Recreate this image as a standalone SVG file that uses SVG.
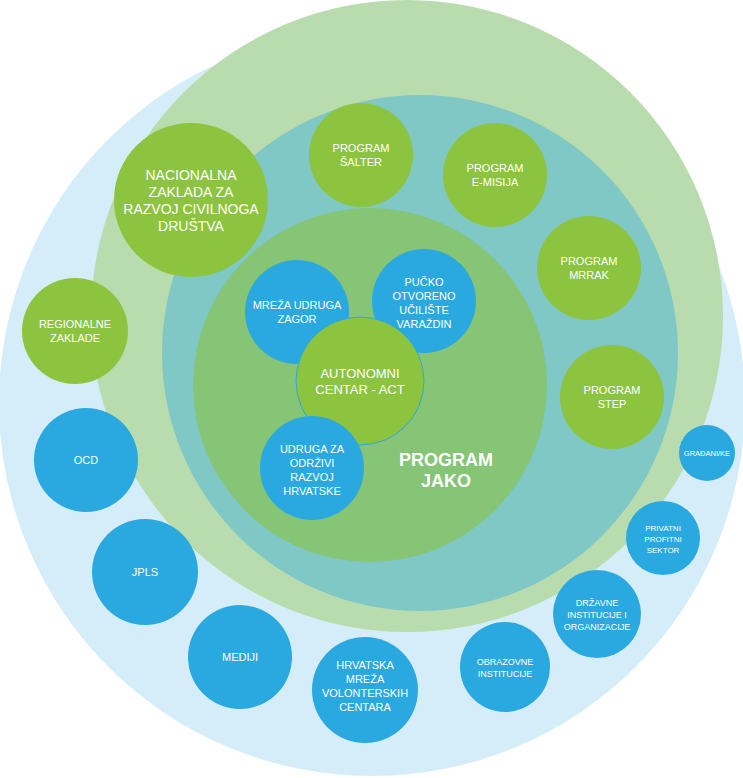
<svg xmlns="http://www.w3.org/2000/svg" width="743" height="778" viewBox="0 0 743 778">
<style>
text{font-family:"Liberation Sans",Arial,sans-serif;fill:#fff;text-anchor:middle}
.g{fill:#8cc43f}.b{fill:#29a9e0}
.s{font-size:11px}.m{font-size:13px}.l{font-size:14px}.xs{font-size:9px}
</style>
<rect width="743" height="778" fill="#fff"/>
<circle cx="372" cy="403" r="373" fill="#d5edf8"/>
<circle cx="407" cy="316" r="316" fill="#b8dcae"/>
<circle cx="420" cy="353" r="258" fill="#7fc8c6"/>
<circle cx="370" cy="385" r="177" fill="#85c575"/>
<text x="446" y="466" style="font-size:18px;font-weight:bold">PROGRAM</text>
<text x="446" y="487" style="font-size:18px;font-weight:bold">JAKO</text>
<g id="connectors"/>
<g id="nacionalna"><circle class="g" cx="191" cy="200" r="77"/><text class="l" x="191" y="180">NACIONALNA</text><text class="l" x="191" y="197">ZAKLADA ZA</text><text class="l" x="191" y="214">RAZVOJ CIVILNOGA</text><text class="l" x="191" y="231">DRUŠTVA</text></g>
<g id="salter"><circle class="g" cx="361" cy="155" r="52"/><text class="s" x="361" y="152">PROGRAM</text><text class="s" x="361" y="166">ŠALTER</text></g>
<g id="emisija"><circle class="g" cx="495" cy="175" r="52"/><text class="s" x="495" y="172">PROGRAM</text><text class="s" x="495" y="186">E-MISIJA</text></g>
<g id="mrrak"><circle class="g" cx="589" cy="268" r="52"/><text class="s" x="589" y="265">PROGRAM</text><text class="s" x="589" y="279">MRRAK</text></g>
<g id="step"><circle class="g" cx="612" cy="397" r="52"/><text class="s" x="612" y="394">PROGRAM</text><text class="s" x="612" y="408">STEP</text></g>
<g id="regionalne"><circle class="g" cx="75" cy="331" r="53"/><text class="s" x="75" y="328">REGIONALNE</text><text class="s" x="75" y="342">ZAKLADE</text></g>
<g id="zagor"><circle class="b" cx="297" cy="312" r="52"/><text class="s" x="297" y="309">MREŽA UDRUGA</text><text class="s" x="297" y="323">ZAGOR</text></g>
<g id="pucko"><circle class="b" cx="424" cy="301" r="52"/><text class="s" x="424" y="286">PUČKO</text><text class="s" x="424" y="300">OTVORENO</text><text class="s" x="424" y="314">UČILIŠTE</text><text class="s" x="424" y="328">VARAŽDIN</text></g>
<g id="act"><circle class="g" cx="360" cy="381" r="64" stroke="#29a9e0" stroke-width="1"/><text class="m" x="360" y="378">AUTONOMNI</text><text class="m" x="360" y="394">CENTAR - ACT</text></g>
<g id="udruga"><circle class="b" cx="312" cy="468" r="52"/><text class="s" x="312" y="453">UDRUGA ZA</text><text class="s" x="312" y="467">ODRŽIVI</text><text class="s" x="312" y="481">RAZVOJ</text><text class="s" x="312" y="495">HRVATSKE</text></g>
<g id="ocd"><circle class="b" cx="86" cy="460" r="52"/><text class="s" x="86" y="464">OCD</text></g>
<g id="jpls"><circle class="b" cx="145" cy="572" r="53"/><text class="s" x="145" y="576">JPLS</text></g>
<g id="mediji"><circle class="b" cx="240" cy="657" r="52"/><text class="s" x="240" y="661">MEDIJI</text></g>
<g id="hmvc"><circle class="b" cx="365" cy="690" r="53"/><text class="s" x="365" y="669">HRVATSKA</text><text class="s" x="365" y="683">MREŽA</text><text class="s" x="365" y="697">VOLONTERSKIH</text><text class="s" x="365" y="711">CENTARA</text></g>
<g id="obrazovne"><circle class="b" cx="505" cy="667" r="45"/><text class="xs" x="505" y="665">OBRAZOVNE</text><text class="xs" x="505" y="677">INSTITUCIJE</text></g>
<g id="drzavne"><circle class="b" cx="597" cy="614" r="44"/><text class="xs" x="597" y="606">DRŽAVNE</text><text class="xs" x="597" y="618">INSTITUCIJE I</text><text class="xs" x="597" y="630">ORGANIZACIJE</text></g>
<g id="privatni"><circle class="b" cx="663" cy="538" r="37"/><text class="xs" x="663" y="531" style="font-size:8px">PRIVATNI</text><text class="xs" x="663" y="542" style="font-size:8px">PROFITNI</text><text class="xs" x="663" y="553" style="font-size:8px">SEKTOR</text></g>
<g id="gradani"><circle class="b" cx="707" cy="453" r="28"/><text x="707" y="456" style="font-size:7.5px">GRAĐANI/KE</text></g>
</svg>
